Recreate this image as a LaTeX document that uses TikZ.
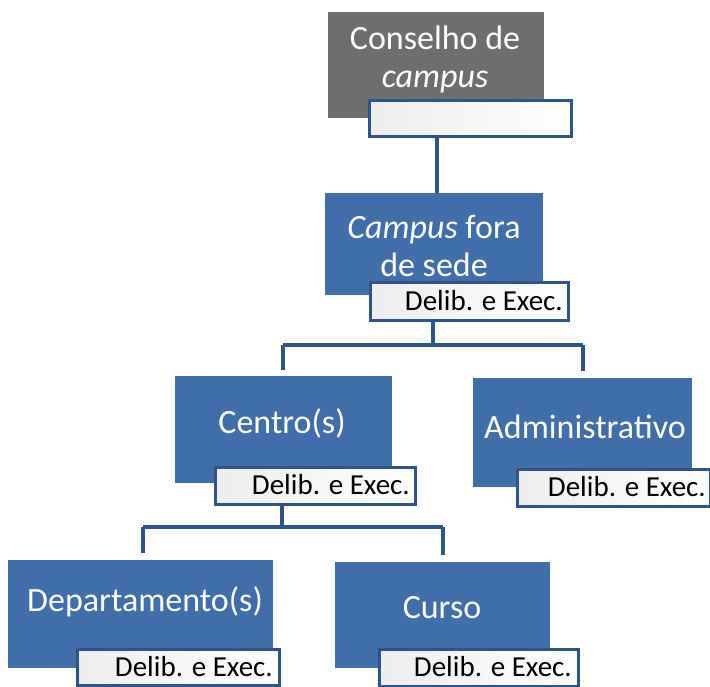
\documentclass[tikz,border=0pt]{standalone}
\usepackage{fontspec}
\setmainfont{Carlito}
\definecolor{boxblue}{HTML}{3F6EAA}
\definecolor{boxgray}{HTML}{6E6E6E}
\definecolor{edgeblue}{HTML}{2F5588}
\tikzset{
  mainbox/.style={draw=none, fill=boxblue, minimum width=#1, inner sep=0pt},
  graybox/.style={draw=none, fill=boxgray, inner sep=0pt},
  tag/.style={draw=edgeblue, line width=3pt, left color=gray!14, right color=white,
    shading angle=90, inner sep=0pt, anchor=north west},
  tagtext/.style={font=\fontsize{29}{31}\selectfont, text=black, anchor=east, inner sep=0pt},
  maintext/.style={font=\fontsize{34}{38}\selectfont, text=white, align=center, inner sep=0pt},
  link/.style={draw=edgeblue, line width=4pt}
}
\begin{document}
\begin{tikzpicture}[x=1pt,y=-1pt]
\useasboundingbox (0,0) rectangle (710,687);
\fill[white] (0,0) rectangle (710,687);
% Conselho de campus
\node[graybox, minimum width=216pt, minimum height=106pt, anchor=north west] (cons) at (328,12) {};
\node[maintext] (const) at (435,59) {Conselho de\\\textit{campus}};
\node[tag, minimum width=202pt, minimum height=36pt] (constag) at (368,99) {};
% Campus fora de sede
\node[mainbox=218pt, minimum height=102pt, anchor=north west] (camp) at (325,193) {};
\node[maintext] (campt) at (434,246) {\textit{Campus} fora\\de sede};
\node[tag, minimum width=198pt, minimum height=38pt] (camptag) at (369,281) {};
\node[tagtext] (camptt) at (563,301) {Delib. e Exec.};
% Centro(s)
\node[mainbox=217pt, minimum height=107pt, anchor=north west] (cent) at (175,376) {};
\node[maintext] (centt) at (282,423) {Centro(s)};
\node[tag, minimum width=200pt, minimum height=37pt] (centtag) at (214,466) {};
\node[tagtext] (centtt) at (410,485) {Delib. e Exec.};
% Administrativo
\node[mainbox=219pt, minimum height=109pt, anchor=north west] (adm) at (473,378) {};
\node[maintext] (admt) at (585,427) {Administrativo};
\node[tag, minimum width=193pt, minimum height=37pt] (admtag) at (516,468) {};
\node[tagtext] (admtt) at (706,487) {Delib. e Exec.};
% Departamento(s)
\node[mainbox=265pt, minimum height=108pt, anchor=north west] (dep) at (8,560) {};
\node[maintext] (dept) at (145,602) {Departamento(s)};
\node[tag, minimum width=202pt, minimum height=36pt] (deptag) at (76,648) {};
\node[tagtext] (deptt) at (273,667) {Delib. e Exec.};
% Curso
\node[mainbox=215pt, minimum height=106pt, anchor=north west] (cur) at (335,562) {};
\node[maintext] (curt) at (442,608) {Curso};
\node[tag, minimum width=199pt, minimum height=37pt] (curtag) at (378,648) {};
\node[tagtext] (curtt) at (572,667) {Delib. e Exec.};
% connectors
\draw[link] (constag.south -| 437,0) -- (437,193);
\coordinate (j1) at (433,345);
\draw[link] (camptag.south -| j1) -- (j1);
\draw[link] (283,345) -- (583,345);
\draw[link] (283,345) -- (283,370);
\draw[link] (583,345) -- (583,371);
\coordinate (j2) at (282,527);
\draw[link] (centtag.south -| j2) -- (j2);
\draw[link] (143,527) -- (443,527);
\draw[link] (143,527) -- (143,553);
\draw[link] (443,527) -- (443,555);
\end{tikzpicture}
\end{document}
